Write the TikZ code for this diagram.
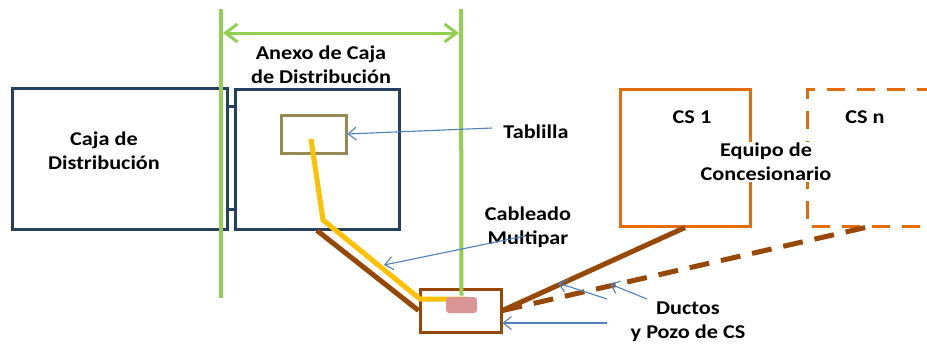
\documentclass[tikz,border=0pt]{standalone}
\usepackage{fontspec}
\setmainfont{Carlito}[FakeStretch=1.14]
\usetikzlibrary{arrows.meta}
\definecolor{navy}{HTML}{254061}
\definecolor{verde}{HTML}{92D050}
\definecolor{oliva}{HTML}{948A54}
\definecolor{amarillo}{HTML}{FFC000}
\definecolor{cafe}{HTML}{974806}
\definecolor{rosa}{HTML}{D99694}
\definecolor{naranja}{HTML}{E46C0A}
\definecolor{azul}{HTML}{4F81BD}
\begin{document}
\begin{tikzpicture}[x=1pt,y=-1pt]
\tikzstyle{box}=[draw, line width=3pt, inner sep=0pt]
\tikzstyle{tx}=[font=\fontsize{19.5}{24}\selectfont\bfseries, align=center, inner sep=1pt]
\tikzstyle{ptr}=[draw=azul, line width=1.1pt, -{Straight Barb[length=8pt,width=13pt]}]
\fill[white] (0,0) rectangle (927,343);
\useasboundingbox (0,0) rectangle (927,343);

\node[box, draw=navy, minimum width=215pt, minimum height=141pt] (caja) at (119.5,158.5) {};
\node[box, draw=navy, minimum width=164pt, minimum height=140pt] (anexo) at (317,159) {};
\draw[navy, line width=3pt] (227,106) -- (235,106) (227,209) -- (235,209);
\node[box, draw=oliva, minimum width=65pt, minimum height=38pt] (tabl) at (313.5,134) {};
\node[box, draw=naranja, minimum width=130pt, minimum height=137pt] (cs1) at (685,157.5) {};
\draw[naranja, line width=3pt, dash pattern=on 18pt off 12pt] (935,89) -| (807,226) -- (935,226);
\node[box, draw=cafe, minimum width=81pt, minimum height=43pt] (pozo) at (460.5,310.5) {};

\coordinate (y1) at (311,139);
\coordinate (y2) at (323,220);
\coordinate (y3) at (420,299);
\coordinate (y4) at (466,299);
\draw[amarillo, line width=5pt, line join=round] (y1) -- (y2) -- (y3) -- (y4);

\coordinate (csnb) at (872,226);
\draw[cafe, line width=5pt] (anexo.south) -- (pozo.west);
\draw[cafe, line width=5pt] (pozo.east) -- (cs1.south);
\draw[cafe, line width=5pt, dash pattern=on 20pt off 12pt] (pozo.east) -- (csnb);

\coordinate (g1) at (221,9);
\coordinate (g2) at (221,298);
\coordinate (g3) at (461,9);
\node[box, draw=none, fill=rosa, rounded corners=3pt, minimum width=31pt, minimum height=16pt] (emp) at (461.5,305) {};
\draw[verde, line width=4pt] (g1) -- (g2);
\draw[verde, line width=4pt] (g3) -- (emp.north);
\coordinate (a1) at (223,33);
\coordinate (a2) at (459,33);
\draw[verde, line width=3pt, {Straight Barb[length=12pt,width=18pt]}-{Straight Barb[length=12pt,width=18pt]}] (a1) -- (a2);

\node[tx] (anexotx) at (321,65) {Anexo de Caja\\de Distribución};
\node[tx] (cajatx) at (104,151) {Caja de\\Distribución};
\node[tx] (cs1tx) at (692,117) {CS 1};
\node[tx] (csntx) at (865,117) {CS n};
\node[tx, fill=white] (equipo) at (766,162) {Equipo de\\Concesionario};
\node[tx] (tabltx) at (536,132) {Tablilla};
\node[tx] (cabletx) at (528,227) {Cableado\\Multipar};
\node[tx] (ductotx) at (688,322) {Ductos\\y Pozo de CS};

\coordinate (p1) at (492,128);
\coordinate (p2) at (525,236);
\coordinate (p3) at (384,265);
\coordinate (d1) at (607,299);
\coordinate (d2) at (558,283);
\coordinate (d3) at (647,299);
\coordinate (d4) at (610,284);
\coordinate (d5) at (607,323);
\draw[ptr] (p1) -- (tabl.east);
\draw[ptr] (p2) -- (p3);
\draw[ptr] (d1) -- (d2);
\draw[ptr] (d3) -- (d4);
\draw[ptr] (d5) -- (pozo.east |- d5);
\end{tikzpicture}
\end{document}
